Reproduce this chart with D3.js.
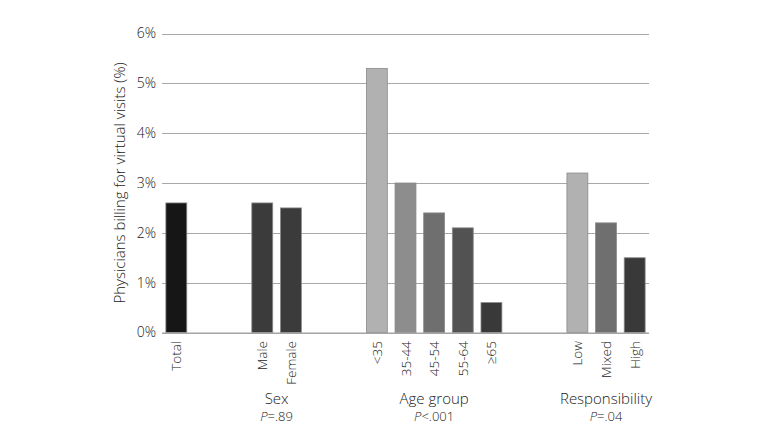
<!DOCTYPE html>
<html>
<head>
<meta charset="utf-8">
<script src="https://cdn.jsdelivr.net/npm/d3@7"></script>
<style>
  body { margin: 0; background: #fff; }
  text { font-family: "Open Sans", "Noto Sans", sans-serif; font-weight: 300; fill: #222; }
</style>
</head>
<body>
<svg id="canvas" width="769" height="446"></svg>
<script>
// slots along the x axis, blank ones keep the gaps between groups
let categories = ['Total', 'b1', 'b2', 'Male', 'Female', 'b3', 'b4', '<35', '35-44', '45-54', '55-64', '≥65', 'b5', 'b6', 'Low', 'Mixed', 'High']
let barLabels = ['Total', 'Male', 'Female', '<35', '35-44', '45-54', '55-64', '≥65', 'Low', 'Mixed', 'High']
let barValues = [2.6, 2.6, 2.5, 5.3, 3.0, 2.4, 2.1, 0.6, 3.2, 2.2, 1.5]
let barColors = ['#161616', '#3b3b3b', '#3b3b3b', '#b1b1b1', '#8d8d8d', '#6f6f6f', '#525252', '#393939', '#b1b1b1', '#6f6f6f', '#393939']
let yTicks = [0, 1, 2, 3, 4, 5, 6]
let groupNames = ['Sex', 'Age group', 'Responsibility']
let groupPValues = ['=.89', '<.001', '=.04']
let groupMembers = [['Male', 'Female'], ['<35', '≥65'], ['Low', 'High']]

let canvas = d3.select('#canvas')

let x = d3.scaleBand()
  .domain(categories)
  .range([162, 649])
  .paddingInner(0.27)
  .paddingOuter(0.135)

let y = d3.scaleLinear()
  .domain([0, 6])
  .range([332.5, 33.5])

// gridlines
canvas.append('g')
  .selectAll('line')
  .data(yTicks)
  .enter()
  .append('line')
  .attr('x1', 162)
  .attr('x2', 649)
  .attr('y1', d => Math.round(y(d)) + 0.5)
  .attr('y2', d => Math.round(y(d)) + 0.5)
  .attr('stroke', '#a8a8a8')
  .attr('stroke-width', 1)

// y axis labels
let yAxis = d3.axisLeft(y)
  .tickValues(yTicks)
  .tickFormat(d => d + '%')
  .tickSize(0)
  .tickPadding(6)

let yg = canvas.append('g')
  .attr('transform', 'translate(162,0)')
  .call(yAxis)
yg.select('.domain').remove()
yg.selectAll('text')
  .style('font-size', '14px')
  .style('font-family', '"Open Sans", "Noto Sans", sans-serif')
  .attr('fill', '#222')

// bars
let bars = barLabels.map((label, i) => ({ label: label, value: barValues[i], color: barColors[i] }))

canvas.append('g')
  .selectAll('rect')
  .data(bars)
  .enter()
  .append('rect')
  .attr('x', d => x(d.label))
  .attr('width', x.bandwidth())
  .attr('y', d => y(d.value))
  .attr('height', d => y(0) - y(d.value))
  .attr('fill', d => d.color)
  .attr('stroke', '#8a8a8a')
  .attr('stroke-width', 0.8)

// bottom axis line
canvas.append('line')
  .attr('x1', 162)
  .attr('x2', 649)
  .attr('y1', 333)
  .attr('y2', 333)
  .attr('stroke', '#a0a0a0')

// rotated category labels
canvas.append('g')
  .selectAll('text')
  .data(barLabels)
  .enter()
  .append('text')
  .attr('transform', d => 'translate(' + (x(d) + x.bandwidth() / 2 + 5) + ',341) rotate(-90)')
  .attr('text-anchor', 'end')
  .style('font-size', '13.5px')
  .text(d => d)

// group titles and p values
let groupCenter = (members) => {
  let a = x(members[0])
  let b = x(members[members.length - 1]) + x.bandwidth()
  return (a + b) / 2
}

groupNames.forEach((name, i) => {
  let cx = groupCenter(groupMembers[i])
  canvas.append('text')
    .attr('x', cx)
    .attr('y', 404)
    .attr('text-anchor', 'middle')
    .style('font-size', '15px')
    .text(name)

  let p = canvas.append('text')
    .attr('x', cx)
    .attr('y', 421)
    .attr('text-anchor', 'middle')
    .style('font-size', '13px')
  p.append('tspan').style('font-style', 'italic').text('P')
  p.append('tspan').text(groupPValues[i])
})

// y axis title
canvas.append('text')
  .attr('transform', 'translate(125,183) rotate(-90)')
  .attr('text-anchor', 'middle')
  .style('font-size', '15px')
  .text('Physicians billing for virtual visits (%)')
</script>
</body>
</html>
